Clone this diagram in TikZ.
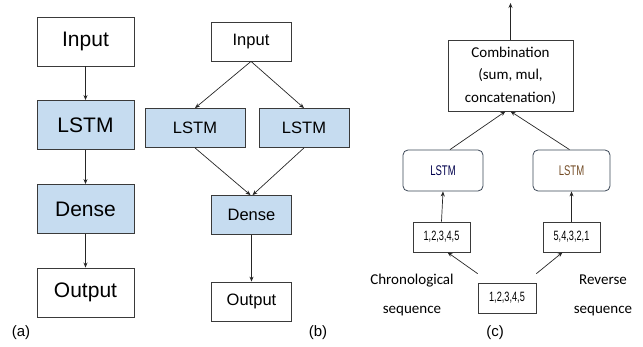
\documentclass[tikz,border=0pt]{standalone}
\usepackage{fontspec}
\setmainfont{Liberation Sans}
\newfontfamily\calfont{Carlito}
\newfontfamily\narrowfont[FakeStretch=0.68]{Liberation Sans}
\usetikzlibrary{arrows.meta}
\definecolor{lblue}{HTML}{C6DCF0}
\definecolor{boxline}{HTML}{3A3A3A}
\definecolor{rline}{HTML}{3A4656}
\begin{document}
\begin{tikzpicture}[x=1pt,y=-1pt,
  boxa/.style={draw=boxline,line width=0.9pt,minimum width=97pt,minimum height=49pt,inner sep=0pt,font=\fontsize{21}{24}\selectfont},
  boxb/.style={draw=boxline,line width=0.8pt,minimum width=80pt,minimum height=39pt,inner sep=0pt,font=\fontsize{16.5}{19}\selectfont},
  boxc/.style={draw=boxline,line width=0.7pt,inner sep=0pt},
  rbox/.style={boxc,draw=rline,line width=0.8pt,rounded corners=5pt,minimum height=41pt,font=\narrowfont\fontsize{14}{16}\selectfont},
  seqbox/.style={boxc,minimum height=30pt,font=\narrowfont\fontsize{13.5}{16}\selectfont},
  blue/.style={fill=lblue},
  arr/.style={-{Stealth[length=5pt,width=4pt]},line width=0.7pt,draw=black!85},
  lab/.style={font=\fontsize{15}{17}\selectfont}]
\useasboundingbox (0,0) rectangle (643,347);
% (a)
\node[boxa] (ain) at (85.5,41.5) {Input};
\node[boxa,blue] (alstm) at (85.5,125) {LSTM};
\node[boxa,blue] (adense) at (85.5,209) {Dense};
\node[boxa] (aout) at (85.5,292.5) {Output};
\draw[arr] (ain) -- (alstm);
\draw[arr] (alstm) -- (adense);
\draw[arr] (adense) -- (aout);
\node[lab] (la) at (21,333) {(a)};
% (b)
\node[boxb] (bin) at (251,41.5) {Input};
\node[boxb,blue,minimum width=100pt] (bl1) at (195,128) {LSTM};
\node[boxb,blue,minimum width=90pt] (bl2) at (304,128) {LSTM};
\node[boxb,blue] (bdense) at (251.5,215) {Dense};
\node[boxb] (bout) at (251.5,301.5) {Output};
\draw[arr] (bin.south) -- (bl1.north);
\draw[arr] (bin.south) -- (bl2.north);
\draw[arr] (bl1.south) -- ([xshift=-1pt]bdense.north);
\draw[arr] (bl2.south) -- ([xshift=1pt]bdense.north);
\draw[arr] (bdense) -- (bout);
\node[lab] (lb) at (318,333) {(b)};
% (c)
\node[boxc,minimum width=125pt,minimum height=71pt,align=center,font=\calfont\fontsize{15}{22.5}\selectfont] (comb) at (510.5,75.5) {Combination\\(sum, mul,\\concatenation)};
\coordinate (top) at (510.5,3);
\draw[arr] (comb.north) -- (top);
\node[rbox,minimum width=80pt,text=blue!30!black] (cl1) at (443,170.5) {LSTM};
\node[rbox,minimum width=77pt,text=brown!60!black] (cl2) at (571.5,170.5) {LSTM};
\draw[arr] ([xshift=7pt]cl1.north) -- ([xshift=-5pt]comb.south);
\draw[arr] ([xshift=-2pt]cl2.north) -- ([xshift=0pt]comb.south);
\node[seqbox,minimum width=57pt] (s1) at (441.5,237) {1,2,3,4,5};
\node[seqbox,minimum width=57pt] (s2) at (571.5,237) {5,4,3,2,1};
\node[seqbox,minimum width=58pt] (s0) at (507,298) {1,2,3,4,5};
\draw[arr] (s1.north) -- (cl1.south);
\draw[arr] (s2.north) -- (cl2.south);
\draw[arr] ([yshift=9pt]s0.north west) -- ([xshift=6pt]s1.south);
\draw[arr] ([yshift=9pt]s0.north east) -- ([xshift=-9pt]s2.south);
\node[align=center,font=\calfont\fontsize{15}{29}\selectfont] (chr) at (412,295) {Chronological\\sequence};
\node[align=center,font=\calfont\fontsize{15}{29}\selectfont] (rev) at (603,295) {Reverse\\sequence};
\node[lab] (lc) at (495,333) {(c)};
\end{tikzpicture}
\end{document}
